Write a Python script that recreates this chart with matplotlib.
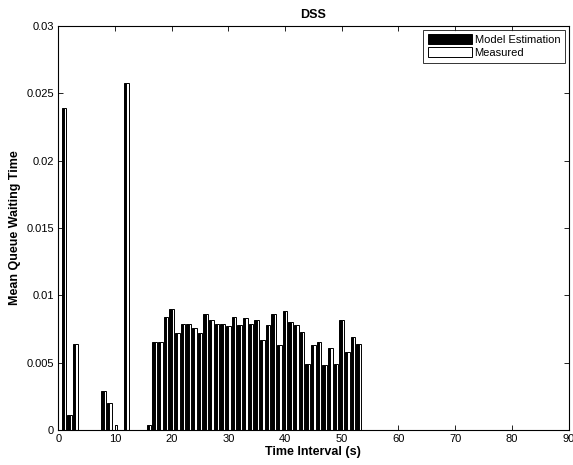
import matplotlib
matplotlib.use("Agg")
import matplotlib.pyplot as plt
import numpy as np

plt.rcParams['font.family'] = ['Liberation Sans', 'DejaVu Sans']

# Time intervals 1..89
intervals = list(range(1, 90))

# Non-zero values (interval: value), all others zero
measured_nz = {1: 0.0239, 2: 0.0011, 3: 0.0064, 8: 0.0029, 9: 0.0020, 10: 0.0004,
               12: 0.0258, 16: 0.0004, 17: 0.0065, 18: 0.0065, 19: 0.0084, 20: 0.0090,
               21: 0.0072, 22: 0.0079, 23: 0.0079, 24: 0.0076, 25: 0.0072, 26: 0.0086,
               27: 0.0082, 28: 0.0079, 29: 0.0079, 30: 0.0077, 31: 0.0084, 32: 0.0078,
               33: 0.0083, 34: 0.0079, 35: 0.0082, 36: 0.0067, 37: 0.0078, 38: 0.0086,
               39: 0.0063, 40: 0.0088, 41: 0.0080, 42: 0.0078, 43: 0.0073, 44: 0.0049,
               45: 0.0063, 46: 0.0065, 47: 0.0048, 48: 0.0061, 49: 0.0049, 50: 0.0082,
               51: 0.0058, 52: 0.0069, 53: 0.0064}
model_nz = dict(measured_nz)
model_nz[10] = 0.0

model = [model_nz.get(i, 0.0) for i in intervals]
measured = [measured_nz.get(i, 0.0) for i in intervals]

x_ticks = [0, 10, 20, 30, 40, 50, 60, 70, 80, 90]
y_ticks = [0, 0.005, 0.01, 0.015, 0.02, 0.025, 0.03]
y_tick_labels = ['0', '0.005', '0.01', '0.015', '0.02', '0.025', '0.03']

fig = plt.figure(figsize=(5.73, 4.65), dpi=100)
ax = fig.add_axes([0.1017, 0.0753, 0.8905, 0.8687])

x = np.array(intervals, dtype=float)
w = 0.4
ax.bar(x - w / 2, model, width=w, color='black', edgecolor='black', linewidth=0.7,
       label='Model Estimation')
ax.bar(x + w / 2, measured, width=w, color='white', edgecolor='black', linewidth=0.7,
       label='Measured')

ax.set_xlim(0, 90)
ax.set_ylim(0, 0.03)
ax.set_xticks(x_ticks)
ax.set_yticks(y_ticks)
ax.set_yticklabels(y_tick_labels)
ax.tick_params(direction='in', top=True, right=True, length=3.5, width=0.6,
               labelsize=8, pad=3)
for s in ax.spines.values():
    s.set_linewidth(0.8)

ax.set_title('DSS', fontsize=9, fontweight='bold', pad=6)
ax.set_xlabel('Time Interval (s)', fontsize=9, fontweight='bold', labelpad=1)
ax.set_ylabel('Mean Queue Waiting Time', fontsize=9, fontweight='bold', labelpad=4)

leg = ax.legend(loc='upper right', fontsize=8, fancybox=False, frameon=True,
                edgecolor='black', handlelength=4.0, handleheight=1.0,
                borderaxespad=0.35, borderpad=0.4, labelspacing=0.2,
                handletextpad=0.2)
leg.get_frame().set_linewidth(0.7)

fig.savefig('out.png', dpi=100)
